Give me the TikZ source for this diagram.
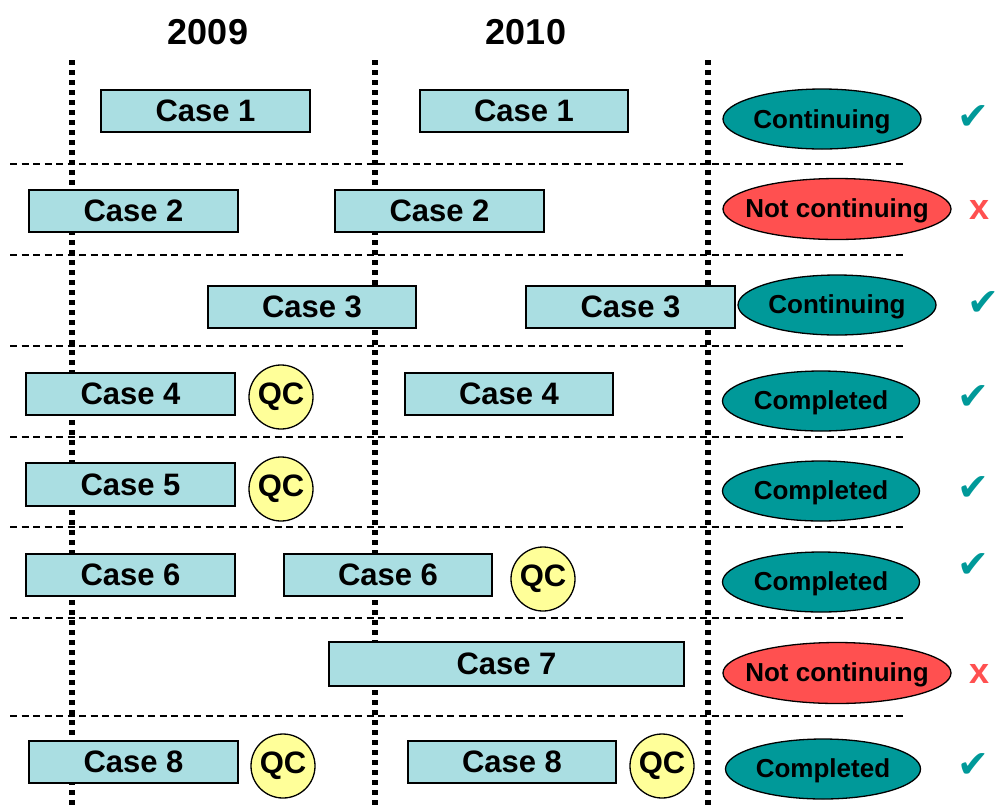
\documentclass[tikz,border=0pt]{standalone}
\usepackage{fontspec}
\setmainfont{Liberation Sans}
\newfontfamily\symfont{DejaVu Sans}
\usetikzlibrary{shapes.geometric}
\definecolor{boxfill}{RGB}{170,222,226}
\definecolor{tealc}{RGB}{0,153,153}
\definecolor{redc}{RGB}{255,80,80}
\definecolor{qcfill}{RGB}{255,255,153}
\tikzset{
  casebox/.style={draw=black, line width=1.6pt, fill=boxfill, inner sep=0pt, font=\fontsize{31}{31}\selectfont\bfseries},
  oval/.style={ellipse, draw=black, line width=1.3pt, inner sep=0pt},
  ovaltext/.style={inner sep=0pt, font=\fontsize{26}{26}\selectfont\bfseries},
  contoval/.style={oval, fill=tealc},
  notoval/.style={oval, fill=redc},
  qc/.style={circle, draw=black, line width=1.3pt, fill=qcfill, minimum size=64pt, inner sep=0pt, font=\fontsize{31}{31}\selectfont\bfseries},
  yearlbl/.style={font=\fontsize{36}{36}\selectfont\bfseries},
  tick/.style={text=tealc, font=\fontsize{38}{38}\selectfont\symfont},
  cross/.style={text=redc, font=\fontsize{36}{36}\selectfont\bfseries},
  vdots/.style={line width=5.5pt, dash pattern=on 5pt off 5pt},
  hdash/.style={line width=1.3pt, dash pattern=on 7pt off 4.5pt},
}
\newcommand{\cbox}[6]{\node[casebox, minimum width=#4-#2, minimum height=#5-#3, text depth=0pt] (#1) at ({(#2+#4)/2},{(#3+#5)/2}) {#6};}
\begin{document}
\begin{tikzpicture}[x=1pt,y=-1pt]
\useasboundingbox (0,0) rectangle (999,807);
% year labels
\node[yearlbl] (y2009) at (208,32) {2009};
\node[yearlbl] (y2010) at (526,32) {2010};
% dotted vertical lines
\coordinate (v1t) at (72,60); \coordinate (v1b) at (72,807);
\coordinate (v2t) at (375,60); \coordinate (v2b) at (375,807);
\coordinate (v3t) at (708,60); \coordinate (v3b) at (708,807);
\draw[vdots] (v1t) -- (v1b);
\draw[vdots] (v2t) -- (v2b);
\draw[vdots] (v3t) -- (v3b);
% dashed horizontal lines
\foreach \yy/\xe [count=\i] in {164/903,255/903,346/903,437/903,527/903,618/903,716/906}{
  \coordinate (h\i a) at (10,\yy);
  \coordinate (h\i b) at (\xe,\yy);
  \draw[hdash] (h\i a) -- (h\i b);
}
% Row 1
\cbox{c1a}{101}{90}{310}{132}{Case 1}
\cbox{c1b}{420}{90}{628}{132}{Case 1}
\node[contoval, minimum width=198pt, minimum height=60pt] (s1) at (822,119) {};
\node[ovaltext] (s1t) at ([yshift=-3pt]s1.center) {Continuing};
\node[tick] (t1) at (973,118) {✔};
% Row 2
\cbox{c2a}{29}{190}{238}{232}{Case 2}
\cbox{c2b}{335}{190}{544}{232}{Case 2}
\node[notoval, minimum width=228pt, minimum height=61pt] (s2) at (837,209) {};
\node[ovaltext] (s2t) at ([yshift=-2pt]s2.center) {Not continuing};
\node[cross] (t2) at (980,210) {x};
% Row 3
\cbox{c3a}{208}{286}{416}{328}{Case 3}
\cbox{c3b}{526}{286}{735}{328}{Case 3}
\node[contoval, minimum width=198pt, minimum height=60pt] (s3) at (837,305) {};
\node[ovaltext] (s3t) at ([yshift=-2pt]s3.center) {Continuing};
\node[tick] (t3) at (983,304) {✔};
% Row 4
\cbox{c4a}{26}{373}{235}{415}{Case 4}
\node[qc] (q4) at (281,397) {QC};
\cbox{c4b}{405}{373}{613}{415}{Case 4}
\node[contoval, minimum width=197pt, minimum height=60pt] (s4) at (821,401) {};
\node[ovaltext] (s4t) at ([yshift=-2pt]s4.center) {Completed};
\node[tick] (t4) at (973,398) {✔};
% Row 5
\cbox{c5a}{26}{463}{235}{506}{Case 5}
\node[qc] (q5) at (281,489) {QC};
\node[contoval, minimum width=197pt, minimum height=60pt] (s5) at (821,491) {};
\node[ovaltext] (s5t) at ([yshift=-2pt]s5.center) {Completed};
\node[tick] (t5) at (973,489) {✔};
% Row 6
\cbox{c6a}{26}{554}{235}{596}{Case 6}
\cbox{c6b}{284}{554}{492}{596}{Case 6}
\node[qc] (q6) at (543,579) {QC};
\node[contoval, minimum width=197pt, minimum height=60pt] (s6) at (821,582) {};
\node[ovaltext] (s6t) at ([yshift=-2pt]s6.center) {Completed};
\node[tick] (t6) at (973,566) {✔};
% Row 7
\cbox{c7}{329}{642}{684}{686}{Case 7}
\node[notoval, minimum width=228pt, minimum height=61pt] (s7) at (837,673) {};
\node[ovaltext] (s7t) at ([yshift=-2pt]s7.center) {Not continuing};
\node[cross] (t7) at (980,674) {x};
% Row 8
\cbox{c8a}{29}{741}{238}{783}{Case 8}
\node[qc] (q8a) at (283,766) {QC};
\cbox{c8b}{408}{741}{616}{783}{Case 8}
\node[qc] (q8b) at (662,766) {QC};
\node[contoval, minimum width=195pt, minimum height=60pt] (s8) at (823,769) {};
\node[ovaltext] (s8t) at ([yshift=-2pt]s8.center) {Completed};
\node[tick] (t8) at (973,766) {✔};
\end{tikzpicture}
\end{document}
